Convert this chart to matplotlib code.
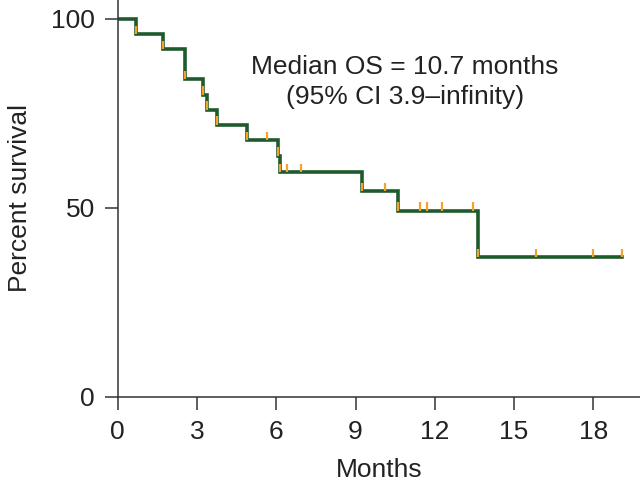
import matplotlib.pyplot as plt
import numpy as np

plt.rcParams['font.family'] = ['Liberation Sans', 'DejaVu Sans']

# event times (months) and survival after each drop (%)
event_t = [0.0, 0.68, 1.7, 2.55, 3.22, 3.37, 3.75, 4.9, 6.05, 6.15, 9.24, 10.6, 13.65]
surv = [100, 96, 92, 84, 80, 76, 72, 68, 63.8, 59.5, 54.5, 49.3, 37.0]
end_t = 19.1

# censored times (months)
censor_t = [5.65, 6.4, 6.93, 10.1, 11.45, 11.7, 12.27, 13.45, 15.85, 18.0, 19.1]

green = '#1d5a2c'
orange = '#f2a22f'

fig = plt.figure(figsize=(6.4, 4.87), dpi=100)
ax = fig.add_axes([0.184, 0.185, 0.816, 0.815])

xs = event_t + [end_t]
ys = surv + [surv[-1]]
ax.step(xs, ys, where='post', color=green, lw=2.6, zorder=2, solid_joinstyle='miter')

# ticks at the drops and at censored times
def level_at(t):
    i = np.searchsorted(event_t, t, side='right') - 1
    return surv[i]

tick_h = 2.2
drop_x = event_t[1:]
drop_y = surv[1:]
ax.vlines(drop_x, drop_y, np.array(drop_y) + tick_h, color=orange, lw=1.6, zorder=3)
cy = [level_at(t) for t in censor_t]
ax.vlines(censor_t, cy, np.array(cy) + tick_h, color=orange, lw=1.6, zorder=3)

ax.set_xlim(0, 19.77)
ax.set_ylim(0, 105)
ax.set_xticks([0, 3, 6, 9, 12, 15, 18])
ax.set_yticks([0, 50, 100])
for s in ['top', 'right']:
    ax.spines[s].set_visible(False)
for s in ['left', 'bottom']:
    ax.spines[s].set_color('#333333')
    ax.spines[s].set_linewidth(1.1)
ax.tick_params(axis='both', direction='out', length=9.5, width=1.1, color='#333333',
               labelsize=19, labelcolor='#222222', pad=7)
ax.set_xlabel('Months', fontsize=19, color='#222222', labelpad=10)
ax.set_ylabel('Percent survival', fontsize=19, color='#222222', labelpad=14)

ax.text(10.87, 83.3, 'Median OS = 10.7 months\n(95% CI 3.9\u2013infinity)', ha='center', va='center',
        fontsize=19, color='#222222', linespacing=1.35)

fig.savefig('out.png', dpi=100)
